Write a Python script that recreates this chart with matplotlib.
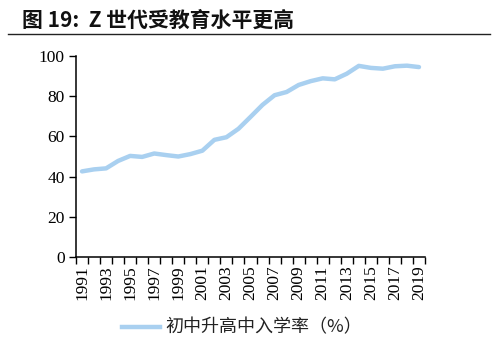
import matplotlib
matplotlib.use("Agg")
import matplotlib.pyplot as plt
from matplotlib.lines import Line2D

years = list(range(1991, 2020))
rate = [42.6, 43.6, 44.1, 47.8, 50.3, 49.8, 51.5, 50.7, 50.0, 51.2,
        52.9, 58.3, 59.6, 63.8, 69.7, 75.7, 80.5, 82.1, 85.6, 87.5,
        88.9, 88.4, 91.2, 95.1, 94.1, 93.7, 94.9, 95.2, 94.5]
yticks = [0, 20, 40, 60, 80, 100]
title = "图 19:  Z 世代受教育水平更高"
series_name = "初中升高中入学率（%）"

serif = ["Liberation Serif", "Noto Sans CJK SC"]
cjk = ["Noto Sans CJK SC", "DejaVu Sans"]

fig = plt.figure(figsize=(4.99, 3.48), dpi=100)
ax = fig.add_axes([0.1523, 0.2615, 0.6994, 0.5775])

x = list(range(len(years)))
ax.plot(x, rate, color="#a9d0f0", lw=3.2, solid_capstyle="round")

ax.set_xlim(-0.5, len(years) - 0.5)
ax.set_ylim(0, 100)
ax.set_yticks(yticks)
ax.set_yticklabels([str(v) for v in yticks], family=serif, fontsize=12.5)

ax.set_xticks([i for i in x if i % 2 == 0])
ax.set_xticklabels([str(years[i]) for i in x if i % 2 == 0],
                   rotation=90, family=serif, fontsize=12.5)
ax.set_xticks([i - 0.5 for i in range(len(years) + 1)], minor=True)
ax.tick_params(axis="x", which="major", length=0, pad=6)
ax.tick_params(axis="x", which="minor", length=5, width=1, direction="out")
ax.tick_params(axis="y", length=5, width=1, direction="out", pad=3)

for s in ("top", "right"):
    ax.spines[s].set_visible(False)
for s in ("left", "bottom"):
    ax.spines[s].set_linewidth(1.1)
    ax.spines[s].set_color("black")

# Heading and rule beneath it
fig.text(22 / 499, 1 - 20 / 348, title, family=cjk, fontsize=15,
         fontweight="bold", va="center", ha="left", color="#111111")
fig.add_artist(Line2D([8 / 499, 490 / 499], [1 - 34 / 348, 1 - 34 / 348],
                      color="#222222", lw=1.0))

# Legend entry
fig.add_artist(Line2D([122 / 499, 160 / 499], [1 - 327 / 348, 1 - 327 / 348],
                      color="#a9d0f0", lw=3.2))
fig.text(165 / 499, 1 - 327 / 348, series_name, family=cjk, fontsize=13,
         fontweight="light", va="center", ha="left", color="#222222")

fig.savefig("out.png", dpi=100)
